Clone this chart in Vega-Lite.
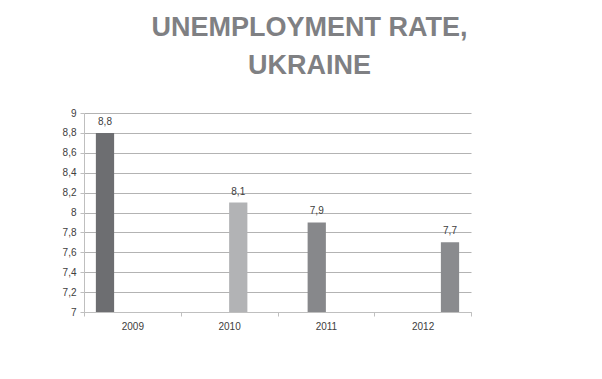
{
  "$schema": "https://vega.github.io/schema/vega-lite/v6.json",
  "width": 387,
  "height": 199,
  "autosize": "none",
  "padding": {"left": 84, "top": 113, "right": 131, "bottom": 67},
  "background": "white",
  "title": {
    "text": ["UNEMPLOYMENT RATE,", "UKRAINE"],
    "font": "Liberation Sans",
    "fontSize": 27,
    "fontWeight": "bold",
    "color": "#7f8083",
    "lineHeight": 38,
    "anchor": "middle",
    "dx": 32,
    "offset": 28
  },
  "data": {
    "values": [
      {"year": "2009", "rate": 8.8},
      {"year": "2010", "rate": 8.1},
      {"year": "2011", "rate": 7.9},
      {"year": "2012", "rate": 7.7}
    ]
  },
  "encoding": {
    "x": {
      "field": "year",
      "type": "nominal",
      "scale": {"paddingInner": 0, "paddingOuter": 0},
      "axis": {
        "title": null,
        "labelAngle": 0,
        "tickBand": "extent",
        "domainColor": "#bfbfbf",
        "tickColor": "#bfbfbf",
        "tickSize": 4,
        "labelPadding": 5,
        "labelColor": "#404040",
        "labelFont": "Liberation Sans",
        "labelFontSize": 10,
        "grid": false
      }
    },
    "xOffset": {
      "field": "year",
      "type": "nominal",
      "scale": {"domain": ["2009", "2011", "2010", "2012"], "paddingInner": 0, "paddingOuter": 0.65}
    },
    "y": {
      "field": "rate",
      "type": "quantitative",
      "scale": {"domain": [7, 9], "nice": false, "zero": false},
      "axis": {
        "title": null,
        "values": [7, 7.2, 7.4, 7.6, 7.8, 8, 8.2, 8.4, 8.6, 8.8, 9],
        "labelExpr": "replace(format(datum.value, '~f'), '.', ',')",
        "grid": true,
        "gridColor": "#b3b3b3",
        "gridWidth": 1,
        "domainColor": "#bfbfbf",
        "tickColor": "#bfbfbf",
        "tickSize": 4,
        "labelPadding": 4,
        "labelColor": "#404040",
        "labelFont": "Liberation Sans",
        "labelFontSize": 10
      }
    }
  },
  "layer": [
    {
      "mark": {"type": "bar", "clip": true},
      "encoding": {
        "y2": {"datum": 7},
        "color": {
          "field": "year",
          "type": "nominal",
          "scale": {"domain": ["2009", "2010", "2011", "2012"], "range": ["#6d6e71", "#b2b3b5", "#87888b", "#8a8b8e"]},
          "legend": null
        }
      }
    },
    {
      "mark": {"type": "text", "dy": -8, "baseline": "alphabetic", "font": "Liberation Sans", "fontSize": 10, "color": "#404040"},
      "encoding": {
        "text": {"field": "rate", "type": "quantitative", "format": ".1f"}
      }
    }
  ],
  "config": {
    "view": {"stroke": null},
    "locale": {
      "number": {"decimal": ",", "thousands": " ", "grouping": [3], "currency": ["", ""]}
    }
  }
}
